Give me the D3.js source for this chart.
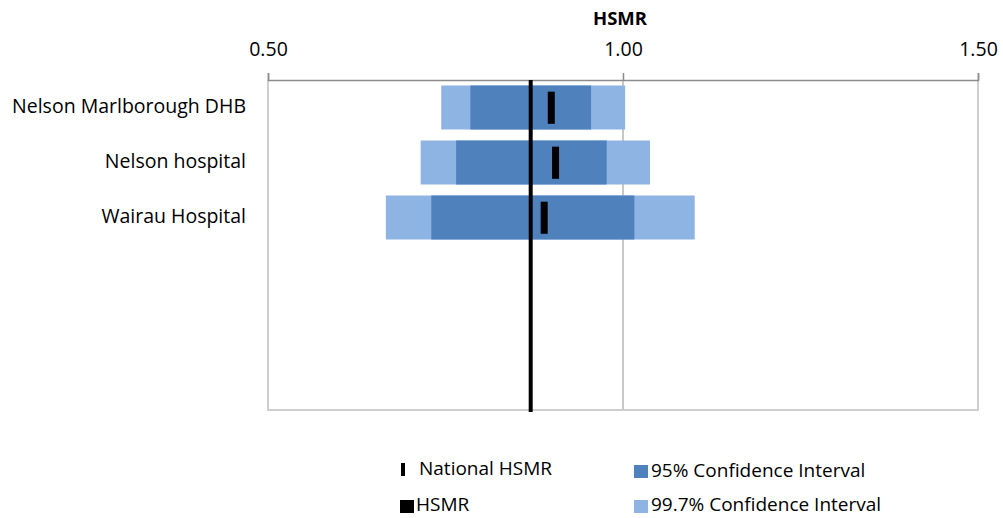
<!DOCTYPE html>
<html><head><meta charset="utf-8">
<script src="https://cdn.jsdelivr.net/npm/d3@7"></script>
<style>
body{margin:0;background:#fff;}
text{font-family:"Open Sans",sans-serif;fill:#000;}
</style></head>
<body><svg id="c" width="1003" height="518"></svg>
<script>
const categories = ["Nelson Marlborough DHB", "Nelson hospital", "Wairau Hospital"];
const hsmr      = [0.899, 0.905, 0.889];
const ci95Low   = [0.785, 0.765, 0.730];
const ci95High  = [0.955, 0.977, 1.016];
const ci997Low  = [0.744, 0.715, 0.666];
const ci997High = [1.003, 1.038, 1.101];
const nationalHSMR = 0.870;
const xTicks = [0.5, 1.0, 1.5];
const axisTitle = "HSMR";
const legendItems = ["National HSMR", "HSMR", "95% Confidence Interval", "99.7% Confidence Interval"];

const colDark = "#4F81BD", colLight = "#8EB4E3";
const svg = d3.select("#c");
const L = 268, R = 978, T = 80, B = 410;
const x = d3.scaleLinear().domain([0.5, 1.5]).range([L, R]);
const y = d3.scaleBand().domain(categories).range([T, T + 165]).paddingInner(0.2).paddingOuter(0.1);

// plot border (left, right, bottom)
svg.append("path").attr("d", `M${L},${T}V${B}H${R}V${T}`).attr("fill","none")
  .attr("stroke","#cfcfcf").attr("stroke-width",2);
// gridlines
svg.selectAll(".grid").data(xTicks.slice(1,-1)).join("line")
  .attr("x1", d=>x(d)).attr("x2", d=>x(d)).attr("y1", T).attr("y2", B)
  .attr("stroke","#c8c8c8").attr("stroke-width",2);

// top axis
const ax = svg.append("g").attr("transform", `translate(0,${T})`)
  .call(d3.axisTop(x).tickValues(xTicks).tickFormat(d3.format(".2f")).tickSize(7).tickPadding(17));
ax.select(".domain").attr("stroke","#8c8c8c").attr("stroke-width",1.5);
ax.selectAll(".tick line").attr("stroke","#8c8c8c").attr("stroke-width",1.5);
ax.selectAll(".tick text").style("font-family","'Open Sans',sans-serif").style("font-size","19.5px").attr("fill","#000");

svg.append("text").attr("x", 620).attr("y", 25).attr("text-anchor","middle")
  .style("font-weight","bold").style("font-size","18.5px").text(axisTitle);

// bars
const idx = d3.range(categories.length);
svg.selectAll(".b997").data(idx).join("rect")
  .attr("x", i=>x(ci997Low[i])).attr("width", i=>x(ci997High[i])-x(ci997Low[i]))
  .attr("y", i=>y(categories[i])).attr("height", y.bandwidth()).attr("fill", colLight);
svg.selectAll(".b95").data(idx).join("rect")
  .attr("x", i=>x(ci95Low[i])).attr("width", i=>x(ci95High[i])-x(ci95Low[i]))
  .attr("y", i=>y(categories[i])).attr("height", y.bandwidth()).attr("fill", colDark);

// national line
svg.append("line").attr("x1", x(nationalHSMR)).attr("x2", x(nationalHSMR))
  .attr("y1", T).attr("y2", B+2).attr("stroke","#000").attr("stroke-width",4);

// HSMR markers
svg.selectAll(".m").data(idx).join("rect")
  .attr("x", i=>x(hsmr[i])-3.5).attr("width", 7)
  .attr("y", i=>y(categories[i]) + y.bandwidth()*0.14).attr("height", y.bandwidth()*0.73)
  .attr("fill","#000");

// category labels
svg.selectAll(".cl").data(categories).join("text")
  .attr("x", 246).attr("y", d=>y(d)+y.bandwidth()/2).attr("dy","0.28em")
  .attr("text-anchor","end").style("font-size","19.5px").text(d=>d);

// legend
const lg = svg.append("g");
const fs = "19px";
lg.append("rect").attr("x",401).attr("y",463).attr("width",4).attr("height",13).attr("fill","#000");
lg.append("text").attr("x",419).attr("y",475).style("font-size",fs).text(legendItems[0]);
lg.append("rect").attr("x",400).attr("y",500).attr("width",14).attr("height",13).attr("fill","#000");
lg.append("text").attr("x",416).attr("y",511).style("font-size",fs).text(legendItems[1]);
lg.append("rect").attr("x",634).attr("y",465).attr("width",14).attr("height",13).attr("fill",colDark);
lg.append("text").attr("x",651).attr("y",477).style("font-size",fs).text(legendItems[2]);
lg.append("rect").attr("x",634).attr("y",500).attr("width",14).attr("height",13).attr("fill",colLight);
lg.append("text").attr("x",651).attr("y",511).style("font-size",fs).text(legendItems[3]);
</script></body></html>
